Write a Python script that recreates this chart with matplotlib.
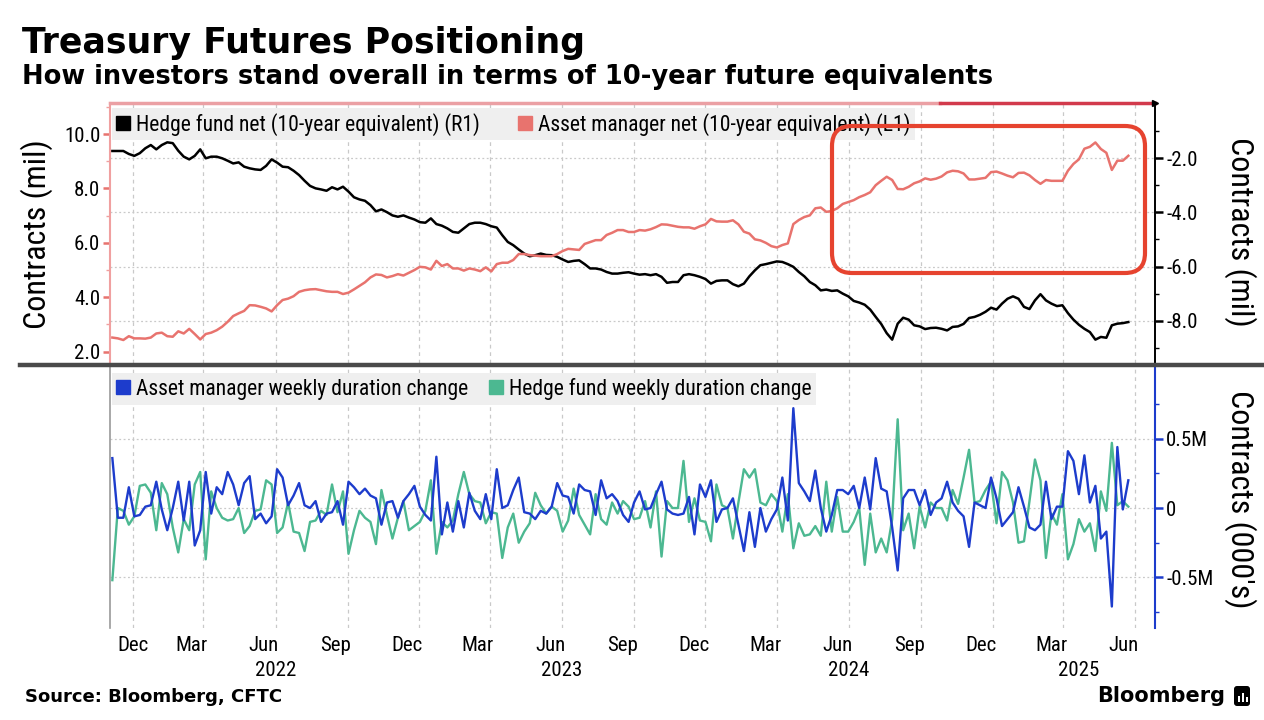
import numpy as np
import pandas as pd
import matplotlib
matplotlib.use("Agg")
import matplotlib.pyplot as plt
import matplotlib.dates as mdates
import matplotlib.transforms as mtrans
from matplotlib.lines import Line2D
from matplotlib.patches import FancyBboxPatch, Rectangle
from matplotlib.ticker import FixedLocator, NullFormatter, FixedFormatter

# ---------------- data ----------------
start_date = "2021-11-05"   # weekly observations

asset_mgr_net = [  # Asset manager net (10-year equivalent), L1, contracts mil
    2.52, 2.49, 2.43, 2.57, 2.49, 2.49, 2.48, 2.52, 2.67, 2.70, 2.57, 2.55, 2.75, 2.67, 2.84, 2.65,
    2.45, 2.65, 2.70, 2.79, 2.92, 3.10, 3.31, 3.41, 3.50, 3.71, 3.70, 3.65, 3.59, 3.48, 3.71, 3.90,
    3.95, 4.04, 4.20, 4.26, 4.29, 4.30, 4.26, 4.22, 4.20, 4.20, 4.12, 4.17, 4.29, 4.42, 4.55, 4.73,
    4.84, 4.82, 4.73, 4.78, 4.85, 4.80, 4.90, 5.00, 5.12, 5.10, 5.02, 5.34, 5.15, 5.22, 5.06, 5.06,
    4.98, 5.06, 5.02, 4.96, 5.10, 4.95, 5.22, 5.27, 5.27, 5.37, 5.59, 5.59, 5.55, 5.53, 5.51, 5.51,
    5.51, 5.59, 5.70, 5.78, 5.76, 5.74, 5.96, 6.03, 6.10, 6.10, 6.29, 6.37, 6.47, 6.47, 6.40, 6.40,
    6.47,
    6.45, 6.50, 6.58, 6.68, 6.67, 6.63, 6.59, 6.57, 6.57, 6.52, 6.61, 6.68, 6.88, 6.79, 6.78, 6.78,
    6.83, 6.68, 6.41, 6.34, 6.13, 6.09, 6.00, 5.88, 5.83, 5.92, 5.98, 6.69, 6.84, 6.95, 7.01, 7.27,
    7.30, 7.14, 7.17, 7.27, 7.43, 7.50, 7.57, 7.68, 7.76, 7.86, 8.12, 8.28, 8.43, 8.31, 7.98,
    7.97, 8.06, 8.19, 8.26, 8.37, 8.32, 8.36, 8.44, 8.59, 8.65, 8.63, 8.55, 8.33, 8.33, 8.36, 8.39,
    8.60, 8.62, 8.55, 8.47, 8.41, 8.57, 8.58, 8.48, 8.31, 8.17, 8.31, 8.28, 8.28, 8.28, 8.65, 8.90,
    9.07, 9.46, 9.53, 9.69, 9.45, 9.31, 8.68, 9.02, 9.02, 9.20,
]

hedge_fund_net = [  # Hedge fund net (10-year equivalent), R1, contracts mil
    -1.73, -1.73, -1.73, -1.84, -1.91, -1.81, -1.63, -1.51, -1.67, -1.51, -1.41, -1.44, -1.72, -1.94,
    -2.04, -1.91, -1.67, -2.00, -1.94, -1.94, -2.00, -2.09, -2.19, -2.15, -2.31, -2.37, -2.41, -2.43,
    -2.28, -2.04, -2.16, -2.31, -2.33, -2.46, -2.62, -2.83, -3.02, -3.11, -3.15, -3.20, -3.07, -3.15,
    -3.05, -3.23, -3.44, -3.52, -3.57, -3.73,
    -3.96, -3.89, -3.99, -4.11, -4.16, -4.11, -4.19, -4.26, -4.36, -4.38, -4.22, -4.43, -4.49, -4.59,
    -4.72, -4.75, -4.59, -4.43, -4.38, -4.38, -4.43, -4.51, -4.56, -4.84, -5.09, -5.21, -5.37, -5.52,
    -5.62, -5.58, -5.52, -5.57, -5.58, -5.64, -5.74, -5.83, -5.79, -5.77, -5.91, -6.07, -6.07, -6.11,
    -6.20, -6.26, -6.26, -6.23, -6.21, -6.26, -6.30,
    -6.28, -6.32, -6.28, -6.38, -6.60, -6.57, -6.57, -6.32, -6.28, -6.32, -6.38, -6.46, -6.63, -6.53,
    -6.51, -6.51, -6.65, -6.73, -6.63, -6.36, -6.14, -5.95, -5.91, -5.86, -5.81, -5.83, -5.91, -6.01,
    -6.20, -6.36, -6.57, -6.69, -6.88, -6.85, -6.90, -6.88, -7.00, -7.10, -7.27, -7.33, -7.41, -7.59,
    -7.86, -8.12, -8.46, -8.70,
    -8.11, -7.89, -7.96, -8.17, -8.21, -8.31, -8.27, -8.26, -8.30, -8.36, -8.23, -8.21, -8.12, -7.90,
    -7.86, -7.78, -7.67, -7.52, -7.59, -7.37, -7.19, -7.10, -7.19, -7.49, -7.57, -7.25, -7.02, -7.25,
    -7.37, -7.46, -7.43, -7.72, -7.96, -8.15, -8.30, -8.42, -8.70, -8.60, -8.63, -8.17, -8.11, -8.09,
    -8.05,
]

asset_mgr_weekly = [  # Asset manager weekly duration change, M contracts
    0.36, -0.07, -0.07, 0.15, -0.06, -0.05, 0.01, 0.02, 0.19, -0.01, -0.16, 0.00, 0.19, -0.09, 0.19, -0.27,
    -0.16, 0.26, -0.04, 0.15, 0.10, 0.26, 0.17, 0.02, 0.18, 0.23, -0.08, -0.04, -0.11, -0.06, 0.28, 0.22,
    0.02, 0.09, 0.18, 0.02, 0.00, 0.05, -0.10, -0.04, -0.03, 0.05, -0.12, 0.19, 0.15, 0.10, 0.14, 0.09,
    0.07, -0.12, 0.04, 0.05, -0.07, 0.05, 0.10, 0.16, 0.01, -0.05, -0.09, 0.37, -0.19, 0.04, -0.17, 0.05,
    -0.14, 0.11, -0.02, -0.08, 0.10, -0.08, 0.28, 0.00, 0.02, 0.13, 0.22, -0.03, -0.04, -0.08, -0.02, -0.04,
    0.01, 0.18, 0.09, 0.08, -0.04, 0.17, 0.13, 0.12, -0.05, 0.20, 0.07, 0.10, 0.05, -0.05, -0.10, 0.04,
    0.12,
    -0.01, 0.00, 0.10, 0.19, -0.01, -0.04, -0.05, -0.04, 0.08, -0.19, 0.17, 0.08, 0.20, -0.10, -0.01, 0.00,
    0.07, -0.12, -0.31, -0.03, -0.28, 0.00, -0.17, -0.08, -0.01, 0.22, -0.09, 0.72, 0.18, 0.12, 0.05, 0.27,
    0.00, -0.17, -0.05, 0.13, 0.13, 0.10, 0.16, 0.00, 0.22, -0.01, 0.36, 0.14, 0.12, -0.14,
    -0.45, 0.07, 0.13, 0.13, 0.02, 0.13, -0.05, 0.04, 0.07, 0.19, 0.04, -0.02, -0.06, -0.28, 0.04, 0.02,
    0.00, 0.22, 0.07, -0.13, -0.08, -0.03, 0.15, 0.01, -0.14, -0.16, -0.12, 0.19, -0.08, 0.01, 0.01, 0.41,
    0.34, 0.10, 0.38, 0.04, 0.16, -0.22, -0.17, -0.71, 0.44, -0.01, 0.20,
]

hedge_fund_weekly = [  # Hedge fund weekly duration change, M contracts
    -0.52, 0.00, -0.02, -0.12, -0.06, 0.16, 0.17, 0.11, -0.16, 0.18, 0.10, -0.14, -0.32, -0.08, -0.16, 0.17,
    0.26, -0.37, 0.12, 0.00, -0.07, -0.09, -0.08, 0.00, -0.18, -0.13, -0.02, -0.01, 0.20, 0.17, -0.18, -0.14,
    0.04, -0.17, -0.18, -0.31, -0.10, -0.09, -0.02, -0.05, 0.17, -0.03, 0.12, -0.33, -0.16, -0.02, -0.07, -0.10,
    -0.26, 0.13, -0.05, -0.22, -0.07, 0.05, -0.16, -0.13, -0.10, -0.02, 0.20, -0.33, -0.10, -0.14, -0.09, 0.10,
    0.26, 0.10, 0.05, 0.04, -0.11, -0.03, -0.04, -0.36, -0.14, -0.04, -0.25, -0.17, -0.11, 0.11, 0.02, -0.04,
    0.01, -0.02, -0.17, -0.09, 0.14, -0.05, -0.12, -0.19, 0.10, -0.08, -0.12, 0.04, -0.04, 0.05, 0.01, -0.08,
    -0.07,
    0.05, -0.14, 0.12, -0.35, 0.05, 0.00, 0.00, 0.34, -0.10, 0.07, -0.09, -0.10, -0.24, 0.17, 0.02, 0.00,
    -0.22, 0.04, 0.28, 0.22, 0.28, 0.04, 0.02, 0.10, 0.05, -0.17, 0.10, -0.29, -0.11, -0.20, -0.19, -0.13,
    -0.20, 0.19, -0.17, 0.08, -0.17, -0.17, -0.10, 0.00, -0.41, -0.04, -0.32, -0.22, -0.32, -0.08,
    0.64, -0.16, -0.04, -0.29, 0.01, -0.14, 0.04, 0.00, 0.00, -0.09, 0.13, 0.03, 0.22, 0.42, 0.04, 0.05,
    0.13, 0.19, -0.11, 0.26, 0.20, 0.04, -0.25, -0.24, 0.05, 0.35, 0.20, -0.36, -0.04, -0.12, 0.10, -0.37,
    -0.26, -0.08, -0.17, -0.11, -0.31, 0.12, -0.02, 0.47, 0.02, 0.05, 0.01,
]

left_ticks = [2.0, 4.0, 6.0, 8.0, 10.0]
right_ticks = [-8.0, -6.0, -4.0, -2.0]
bottom_ticks = [-0.5, 0.0, 0.5]
bottom_tick_labels = ["-0.5M", "0", "0.5M"]

title = "Treasury Futures Positioning"
subtitle = "How investors stand overall in terms of 10-year future equivalents"
legend_top = ["Hedge fund net (10-year equivalent) (R1)", "Asset manager net (10-year equivalent) (L1)"]
legend_bottom = ["Asset manager weekly duration change", "Hedge fund weekly duration change"]
source = "Source: Bloomberg, CFTC"

# ---------------- styling ----------------
C_BLACK = "#000000"
C_SALMON = "#e8736e"
C_SALMON_SPINE = "#f0a0a0"
C_BLUE = "#1d3ccc"
C_GREEN = "#4cb891"
C_GRID = "#c9c9c9"
AXFONT = ["Roboto Condensed", "Liberation Sans Narrow", "Roboto", "DejaVu Sans"]
plt.rcParams["font.family"] = AXFONT

W, H = 1264, 720
fig = plt.figure(figsize=(W / 100, H / 100), dpi=100)
fig.patch.set_facecolor("white")


def frect(l, t, r, b):
    return [l / W, 1 - b / H, (r - l) / W, (b - t) / H]


dates = pd.date_range(start_date, periods=len(asset_mgr_net), freq="7D")
xmin, xmax = pd.Timestamp("2021-11-02"), pd.Timestamp("2025-06-26")
quarter_ticks = pd.date_range("2021-12-01", "2025-06-01", freq="3MS")

# ---------------- top panel ----------------
ax1r = fig.add_axes(frect(110, 103, 1155, 363))
ax1 = ax1r.twinx()
ax1.yaxis.tick_left()
ax1.yaxis.set_label_position("left")
ax1.set_zorder(ax1r.get_zorder() + 1)
ax1.patch.set_visible(False)

ax1r.plot(dates, hedge_fund_net, color=C_BLACK, lw=1.8, solid_joinstyle="round")
ax1.plot(dates, asset_mgr_net, color=C_SALMON, lw=1.8, solid_joinstyle="round")

ax1.set_ylim(1.585, 11.14)
ax1r.set_ylim(-9.563, 0.043)
for a in (ax1, ax1r):
    a.set_xlim(xmin, xmax)
    a.set_xticks(quarter_ticks)
    a.tick_params(axis="x", length=0, labelbottom=False)
    for s in a.spines.values():
        s.set_visible(False)

ax1r.grid(axis="x", color=C_GRID, ls=(0, (3, 3)), lw=0.9)
ax1r.grid(axis="y", color=C_GRID, ls=(0, (1.5, 2)), lw=0.9)
ax1r.set_axisbelow(True)

ax1.spines["left"].set_visible(True)
ax1.spines["left"].set_color(C_SALMON_SPINE)
ax1.spines["left"].set_linewidth(1.5)
ax1.set_yticks(left_ticks)
ax1.set_yticklabels([f"{v:.1f}" for v in left_ticks])
ax1.yaxis.set_minor_locator(FixedLocator([3, 5, 7, 9, 11]))
ax1.tick_params(axis="y", which="major", direction="out", length=5, width=1.8,
                color=C_SALMON, labelsize=15, pad=2, left=True, right=False)
ax1.tick_params(axis="y", which="minor", direction="out", length=3, width=1.0,
                color=C_SALMON_SPINE, left=True, right=False)

ax1r.spines["right"].set_visible(True)
ax1r.spines["right"].set_color(C_BLACK)
ax1r.spines["right"].set_linewidth(1.4)
ax1r.yaxis.tick_right()
ax1r.set_yticks(right_ticks)
ax1r.set_yticklabels([f"{v:.1f}" for v in right_ticks])
ax1r.yaxis.set_minor_locator(FixedLocator([-9, -7, -5, -3, -1]))
ax1r.tick_params(axis="y", which="major", direction="out", length=6, width=1.8,
                 color=C_BLACK, labelsize=15, pad=2)
ax1r.tick_params(axis="y", which="minor", direction="out", length=3, width=1.0, color=C_BLACK)

LEG_KW = dict(loc="upper left", ncol=2, frameon=True, fancybox=False, facecolor="#efefef",
              edgecolor="none", framealpha=1, fontsize=15.5, handlelength=0.6,
              handletextpad=0.3, borderpad=0.22, borderaxespad=0.0)

h_top = [Line2D([], [], marker="s", ls="none", color=C_BLACK, markersize=10),
         Line2D([], [], marker="s", ls="none", color=C_SALMON, markersize=10)]
leg1 = ax1.legend(h_top, legend_top, bbox_to_anchor=(0.0015, 0.981), columnspacing=1.8, **LEG_KW)
leg1.set_zorder(10)

# ---------------- bottom panel ----------------
ax2 = fig.add_axes(frect(110, 367, 1155, 628))
ax2.plot(dates, asset_mgr_weekly, color=C_BLUE, lw=1.7, solid_joinstyle="round", zorder=3)
ax2.plot(dates, hedge_fund_weekly, color=C_GREEN, lw=1.7, solid_joinstyle="round", zorder=2)
ax2.set_xlim(xmin, xmax)
ax2.set_ylim(-0.865, 1.017)
for s in ("top", "bottom"):
    ax2.spines[s].set_visible(False)
ax2.spines["left"].set_color("#9a9a9a")
ax2.spines["left"].set_linewidth(1.2)
ax2.spines["right"].set_color(C_BLUE)
ax2.spines["right"].set_linewidth(1.5)
ax2.yaxis.tick_right()
ax2.set_yticks(bottom_ticks)
ax2.set_yticklabels(bottom_tick_labels)
ax2.yaxis.set_minor_locator(FixedLocator([-0.75, -0.25, 0.25, 0.75]))
ax2.tick_params(axis="y", which="major", direction="out", length=6, width=1.8,
                color=C_BLUE, labelsize=15, pad=2)
ax2.tick_params(axis="y", which="minor", direction="out", length=3, width=1.0, color=C_BLUE)
ax2.grid(axis="y", color=C_GRID, ls=(0, (1.5, 2)), lw=0.9)
ax2.set_axisbelow(True)

# x axis: gridlines at quarter starts, month labels slightly before
ax2.xaxis.remove_overlapping_locs = False
ax2.set_xticks(quarter_ticks)
ax2.xaxis.set_major_formatter(NullFormatter())
ax2.tick_params(axis="x", which="major", length=0)
ax2.grid(axis="x", which="major", color=C_GRID, ls=(0, (3, 3)), lw=0.9)
label_pos = [d - pd.Timedelta(days=15) for d in quarter_ticks]
label_pos[0] = quarter_ticks[0]
ax2.xaxis.set_minor_locator(FixedLocator(mdates.date2num(label_pos)))
ax2.xaxis.set_minor_formatter(FixedFormatter([d.strftime("%b") for d in quarter_ticks]))
ax2.tick_params(axis="x", which="minor", length=0, labelsize=15, pad=6)

trans = mtrans.blended_transform_factory(ax2.transData, ax2.transAxes)
for yr in [2022, 2023, 2024, 2025]:
    pos = min(pd.Timestamp(f"{yr}-06-01"), xmax - pd.Timedelta(days=97))
    ax2.text(pos, -0.125, str(yr), transform=trans, ha="center", va="top", fontsize=15)

h_bot = [Line2D([], [], marker="s", ls="none", color=C_BLUE, markersize=10),
         Line2D([], [], marker="s", ls="none", color=C_GREEN, markersize=10)]
leg2 = ax2.legend(h_bot, legend_bottom, bbox_to_anchor=(0.0015, 0.976), columnspacing=1.0, **LEG_KW)
leg2.set_zorder(10)

# ---------------- axis titles ----------------
fig.text(37 / W, 1 - 234 / H, "Contracts (mil)", rotation=90, ha="center", va="center", fontsize=23)
fig.text(1240 / W, 1 - 232 / H, "Contracts (mil)", rotation=270, ha="center", va="center", fontsize=23)
fig.text(1240 / W, 1 - 499 / H, "Contracts (000's)", rotation=270, ha="center", va="center", fontsize=23)

# ---------------- decorations ----------------
fig.add_artist(Line2D([110 / W, 940 / W], [1 - 103 / H] * 2, color="#eba0a4", lw=2.5,
                      transform=fig.transFigure))
fig.add_artist(Line2D([940 / W, 1155 / W], [1 - 103 / H] * 2, color="#d23a4c", lw=2.5,
                      transform=fig.transFigure))
fig.add_artist(Line2D([1155 / W], [1 - 103 / H], marker=">", color="black", markersize=5,
                      transform=fig.transFigure))
fig.add_artist(Line2D([20 / W, 1.0], [1 - 365 / H] * 2, color="#4a4a4a", lw=3.2,
                      transform=fig.transFigure))

# red highlight box
fig.add_artist(FancyBboxPatch((832 / 100, (H - 273) / 100), 313 / 100, 147 / 100,
                              boxstyle="round,pad=0,rounding_size=0.2",
                              transform=fig.dpi_scale_trans, fill=False,
                              edgecolor="#e6432f", lw=3.0, zorder=20))

# ---------------- titles / footer ----------------
fig.text(22 / W, 1 - 43 / H, title, fontsize=25, fontweight="bold", family="DejaVu Sans",
         ha="left", va="center")
fig.text(22 / W, 1 - 77 / H, subtitle, fontsize=18.5, fontweight="bold", family="DejaVu Sans",
         ha="left", va="center")
fig.text(25 / W, 1 - 697 / H, source, fontsize=13, fontweight="bold", family="DejaVu Sans",
         ha="left", va="center")
fig.text(1225 / W, 1 - 696 / H, "Bloomberg", fontsize=15, fontweight="bold", family="DejaVu Sans",
         ha="right", va="center")
fig.add_artist(FancyBboxPatch((1234 / 100, (H - 706) / 100), 16 / 100, 20 / 100,
                              boxstyle="round,pad=0,rounding_size=0.03",
                              transform=fig.dpi_scale_trans, facecolor="black", edgecolor="none"))
for bx, bh in [(1238, 6), (1242, 9), (1246, 5)]:
    fig.add_artist(Rectangle((bx / 100, (H - 702) / 100), 1.6 / 100, bh / 100,
                             transform=fig.dpi_scale_trans, facecolor="white", edgecolor="none"))

fig.savefig("out.png", dpi=100, facecolor="white")
